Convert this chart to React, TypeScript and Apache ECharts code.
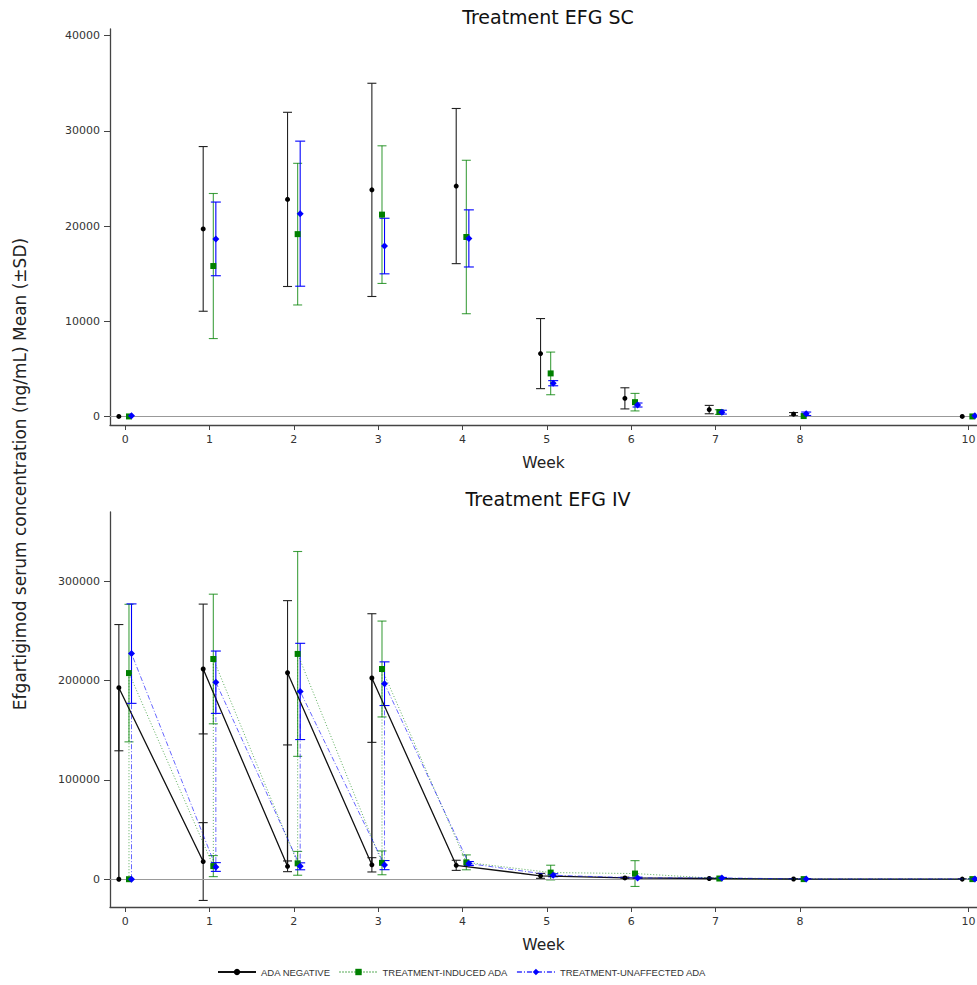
import React, { useEffect, useRef } from 'react';
import * as echarts from 'echarts';

const groupNames = ['ADA NEGATIVE', 'TREATMENT-INDUCED ADA', 'TREATMENT-UNAFFECTED ADA'];

// SC panel: one mean per visit week
const scWeeks = [0, 1, 2, 3, 4, 5, 6, 7, 8, 10];
const scNegMean = [0, 19700, 22800, 23800, 24200, 6600, 1900, 720, 240, 0];
const scNegSd = [0, 8650, 9150, 11200, 8150, 3680, 1110, 440, 170, 0];
const scIndMean = [0, 15800, 19150, 21200, 18850, 4520, 1500, 460, 40, 0];
const scIndSd = [0, 7620, 7440, 7230, 8060, 2240, 920, 245, 0, 0];
const scUnaMean = [80, 18650, 21300, 17900, 18700, 3490, 1200, 450, 280, 60];
const scUnaSd = [0, 3870, 7620, 2920, 3000, 270, 210, 200, 180, 0];

// IV panel: pre-dose and post-dose samples at weeks 0-3
const ivWeeks = [0, 0, 1, 1, 2, 2, 3, 3, 4, 5, 6, 7, 8, 10];
const ivNegMean = [0, 193000, 17800, 211800, 13000, 208000, 14500, 202700, 14000, 3400, 1300, 700, 200, 100];
const ivNegSd = [0, 63600, 39200, 65400, 5400, 72700, 7200, 64800, 5100, 2500, 800, 300, 200, 100];
const ivIndMean = [0, 207700, 13200, 221900, 16000, 227000, 16500, 211800, 17000, 6700, 5700, 700, 100, 100];
const ivIndSd = [0, 69300, 10600, 65300, 12000, 103200, 12000, 48300, 7500, 7400, 13000, 400, 100, 100];
const ivUnaMean = [0, 227300, 12300, 198500, 13000, 189200, 14200, 197000, 15800, 4000, 1300, 1300, 200, 300];
const ivUnaSd = [0, 50100, 4400, 31400, 3500, 48500, 4600, 22000, 2000, 1500, 800, 500, 200, 200];

const scTicks = [0, 10000, 20000, 30000, 40000];
const ivTicks = [0, 100000, 200000, 300000];
const weekTicks = [0, 1, 2, 3, 4, 5, 6, 7, 8, 10];

const titles = ['Treatment EFG SC', 'Treatment EFG IV'];
const yTitle = 'Efgartigimod serum concentration (ng/mL) Mean (\u00b1SD)';
const xTitle = 'Week';

const styles = [
  { color: '#000000', bar: '#222222', offset: -0.075, symbol: 'circle', size: 5, lineType: 'solid' as any, lineColor: '#111111', lineWidth: 1.3, cap: 4.5 },
  { color: '#008000', bar: 'rgba(0,128,0,0.75)', offset: 0.045, symbol: 'rect', size: 6, lineType: [1, 2] as any, lineColor: 'rgba(0,128,0,0.65)', lineWidth: 1, cap: 4.5 },
  { color: '#0000ff', bar: '#0000ff', offset: 0.075, symbol: 'diamond', size: 7, lineType: [5, 2, 1, 2] as any, lineColor: 'rgba(0,0,255,0.6)', lineWidth: 1, cap: 5 },
];

const FONT = 'DejaVu Sans';

function errorBarSeries(idx: number, x: number[], mean: number[], sd: number[], axis: number) {
  const st = styles[idx];
  return {
    type: 'custom',
    xAxisIndex: axis,
    yAxisIndex: axis,
    silent: true,
    z: 2 + idx,
    encode: { x: 0, y: [1, 2] },
    data: x.map((w, i) => [w + st.offset, mean[i] - sd[i], mean[i] + sd[i]]),
    renderItem: (params: any, api: any) => {
      const xv = api.value(0);
      const lo = api.value(1);
      const hi = api.value(2);
      if (hi - lo <= 0) return { type: 'group', children: [] };
      const p1 = api.coord([xv, hi]);
      const p2 = api.coord([xv, lo]);
      const hw = st.cap;
      const s = { stroke: st.bar, lineWidth: 1.1 };
      return {
        type: 'group',
        children: [
          { type: 'line', shape: { x1: p1[0], y1: p1[1], x2: p2[0], y2: p2[1] }, style: s },
          { type: 'line', shape: { x1: p1[0] - hw, y1: p1[1], x2: p1[0] + hw, y2: p1[1] }, style: s },
          { type: 'line', shape: { x1: p2[0] - hw, y1: p2[1], x2: p2[0] + hw, y2: p2[1] }, style: s },
        ],
      };
    },
  };
}

function xAxisCfg(gridIndex: number) {
  return {
    type: 'value',
    gridIndex,
    min: -0.18,
    max: 10.1,
    name: xTitle,
    nameLocation: 'middle',
    nameGap: 30,
    nameTextStyle: { fontFamily: FONT, fontSize: 15.5, color: '#222', verticalAlign: 'top' },
    axisLine: { show: true, onZero: false, lineStyle: { color: '#444', width: 1.3 } },
    axisTick: { show: true, customValues: weekTicks, length: 5, lineStyle: { color: '#444' } },
    axisLabel: { customValues: weekTicks, fontFamily: FONT, fontSize: 11, color: '#333', margin: 9, formatter: (v: number) => String(v) },
    splitLine: { show: false },
  };
}

function yAxisCfg(gridIndex: number, min: number, max: number, ticks: number[]) {
  return {
    type: 'value',
    gridIndex,
    min,
    max,
    axisLine: { show: true, onZero: false, lineStyle: { color: '#444', width: 1.3 } },
    axisTick: { show: true, customValues: ticks, length: 6, lineStyle: { color: '#444' } },
    axisLabel: { customValues: ticks, fontFamily: FONT, fontSize: 11, color: '#333', margin: 10, formatter: (v: number) => String(v) },
    splitLine: { show: false },
  };
}

export default function App() {
  const ref = useRef<HTMLDivElement>(null);
  useEffect(() => {
    if (!ref.current) return;
    const chart = echarts.init(ref.current, undefined, { renderer: 'svg' });

    const scMeans = [scNegMean, scIndMean, scUnaMean];
    const scSds = [scNegSd, scIndSd, scUnaSd];
    const ivMeans = [ivNegMean, ivIndMean, ivUnaMean];
    const ivSds = [ivNegSd, ivIndSd, ivUnaSd];

    const series: any[] = [];
    // IV lines first so that the legend takes their icons
    for (let g = 0; g < 3; g++) {
      const st = styles[g];
      series.push({
        type: 'line',
        name: groupNames[g],
        xAxisIndex: 1,
        yAxisIndex: 1,
        z: 5 + g,
        symbol: st.symbol,
        symbolSize: st.size,
        showSymbol: true,
        itemStyle: { color: st.color },
        lineStyle: { color: st.lineColor, width: st.lineWidth, type: st.lineType },
        data: ivWeeks.map((w, i) => [w + st.offset, ivMeans[g][i]]),
      });
    }
    for (let g = 0; g < 3; g++) {
      const st = styles[g];
      series.push({
        type: 'scatter',
        name: groupNames[g],
        xAxisIndex: 0,
        yAxisIndex: 0,
        z: 5 + g,
        symbol: st.symbol,
        symbolSize: st.size,
        itemStyle: { color: st.color, opacity: 1 },
        data: scWeeks.map((w, i) => [w + st.offset, scMeans[g][i]]),
        markLine: g === 0 ? {
          silent: true,
          symbol: 'none',
          label: { show: false },
          lineStyle: { color: '#999', width: 1, type: 'solid' },
          data: [{ yAxis: 0 }],
        } : undefined,
      });
    }
    for (let g = 0; g < 3; g++) {
      series.push(errorBarSeries(g, scWeeks, scMeans[g], scSds[g], 0));
      series.push(errorBarSeries(g, ivWeeks, ivMeans[g], ivSds[g], 1));
    }
    // zero reference line on IV panel
    series.push({
      type: 'line',
      xAxisIndex: 1,
      yAxisIndex: 1,
      silent: true,
      symbol: 'none',
      data: [],
      markLine: {
        silent: true,
        symbol: 'none',
        label: { show: false },
        lineStyle: { color: '#999', width: 1, type: 'solid' },
        data: [{ yAxis: 0 }],
      },
    });

    const option: any = {
      animation: false,
      backgroundColor: '#ffffff',
      grid: [
        { left: 110, top: 29, width: 867, height: 396, containLabel: false, outerBoundsMode: 'none' },
        { left: 110, top: 512, width: 867, height: 395, containLabel: false, outerBoundsMode: 'none' },
      ],
      xAxis: [xAxisCfg(0), xAxisCfg(1)],
      yAxis: [yAxisCfg(0, -900, 40700, scTicks), yAxisCfg(1, -28000, 370000, ivTicks)],
      legend: {
        data: groupNames,
        left: 217,
        top: 967,
        padding: 0,
        itemWidth: 38,
        itemHeight: 8,
        itemGap: 8,
        textStyle: { fontFamily: 'Liberation Sans', fontSize: 9.5, color: '#333' },
        selectedMode: false,
      },
      graphic: [
        {
          type: 'text', x: 548, y: 17,
          style: { text: titles[0], font: `19px "${FONT}"`, fill: '#111', textAlign: 'center', align: 'center', textVerticalAlign: 'middle', verticalAlign: 'middle' },
        },
        {
          type: 'text', x: 548, y: 499,
          style: { text: titles[1], font: `19px "${FONT}"`, fill: '#111', textAlign: 'center', align: 'center', textVerticalAlign: 'middle', verticalAlign: 'middle' },
        },
        {
          type: 'text', x: 20, y: 474, rotation: Math.PI / 2,
          style: { text: yTitle, font: `17px "${FONT}"`, fill: '#222', textAlign: 'center', align: 'center', textVerticalAlign: 'middle', verticalAlign: 'middle' },
        },
      ],
      series,
    };
    chart.setOption(option);
    return () => chart.dispose();
  }, []);
  return <div ref={ref} style={{ position: 'fixed', left: 0, top: 0, width: 977, height: 985, background: '#fff' }} />;
}
